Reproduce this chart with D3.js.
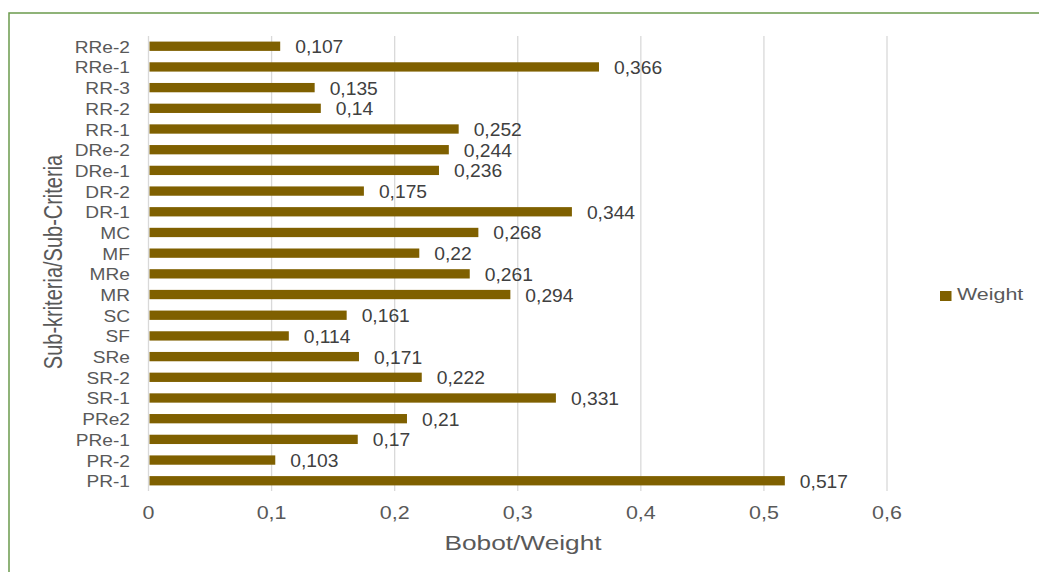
<!DOCTYPE html>
<html>
<head>
<meta charset="utf-8">
<script src="https://cdn.jsdelivr.net/npm/d3@7"></script>
<style>
  body { margin: 0; background: #fff; }
  svg { display: block; font-family: "Liberation Sans", Arial, sans-serif; }
</style>
</head>
<body>
<div id="chart"></div>
<script>
const categories = ["RRe-2", "RRe-1", "RR-3", "RR-2", "RR-1", "DRe-2", "DRe-1", "DR-2", "DR-1",
  "MC", "MF", "MRe", "MR", "SC", "SF", "SRe", "SR-2", "SR-1", "PRe2", "PRe-1", "PR-2", "PR-1"];
const weights = [0.107, 0.366, 0.135, 0.14, 0.252, 0.244, 0.236, 0.175, 0.344,
  0.268, 0.22, 0.261, 0.294, 0.161, 0.114, 0.171, 0.222, 0.331, 0.21, 0.17, 0.103, 0.517];
const ticks = [0, 0.1, 0.2, 0.3, 0.4, 0.5, 0.6];

const width = 1039, height = 572;
const barColor = "#7f6000";
const fmt = v => String(v).replace(".", ",");
// the original picture is a bit wider than tall, so text gets a horizontal stretch
const at = (x, y, sx) => `translate(${x},${y}) scale(${sx},1)`;

const svg = d3.select("#chart").append("svg")
  .attr("width", width)
  .attr("height", height);

// green frame, running off the right and bottom edges
svg.append("rect")
  .attr("x", 9).attr("y", 13)
  .attr("width", width + 20).attr("height", height + 20)
  .attr("fill", "none")
  .attr("stroke", "#6b9a4c")
  .attr("stroke-width", 1.5);

const x = d3.scaleLinear().domain([0, 0.6]).range([148.5, 887]);
const y = d3.scaleBand().domain(categories).range([36, 491]).paddingInner(0.55).paddingOuter(0.27);

// gridlines
svg.append("g")
  .selectAll("line")
  .data(ticks)
  .join("line")
    .attr("x1", d => x(d)).attr("x2", d => x(d))
    .attr("y1", 36).attr("y2", 491)
    .attr("stroke", "#d9d9d9")
    .attr("stroke-width", 1.3);

// x tick labels
svg.append("g")
  .selectAll("text")
  .data(ticks)
  .join("text")
    .attr("transform", d => at(x(d), 519, 1.13))
    .attr("text-anchor", "middle")
    .attr("fill", "#595959")
    .style("font-size", "19px")
    .text(d => fmt(d));

// bars
svg.append("g")
  .selectAll("rect")
  .data(categories)
  .join("rect")
    .attr("x", x(0) + 1)
    .attr("y", d => y(d))
    .attr("width", (d, i) => x(weights[i]) - x(0) - 1)
    .attr("height", y.bandwidth())
    .attr("fill", barColor);

// value labels
svg.append("g")
  .selectAll("text")
  .data(categories)
  .join("text")
    .attr("transform", (d, i) => at(x(weights[i]) + 15, y(d) + y.bandwidth() / 2 + 7, 1.1))
    .attr("fill", "#404040")
    .style("font-size", "17.5px")
    .text((d, i) => fmt(weights[i]));

// category labels
svg.append("g")
  .selectAll("text")
  .data(categories)
  .join("text")
    .attr("transform", d => at(130, y(d) + y.bandwidth() / 2 + 6.5, 1.16))
    .attr("text-anchor", "end")
    .attr("fill", "#595959")
    .style("font-size", "16.5px")
    .text(d => d);

// axis titles
svg.append("text")
  .attr("transform", at(523, 550, 1.25))
  .attr("text-anchor", "middle")
  .attr("fill", "#595959")
  .style("font-size", "21px")
  .text("Bobot/Weight");

svg.append("text")
  .attr("transform", "translate(62,262) scale(1.25,1) rotate(-90)")
  .attr("text-anchor", "middle")
  .attr("fill", "#595959")
  .style("font-size", "20px")
  .text("Sub-kriteria/Sub-Criteria");

// legend
svg.append("rect")
  .attr("x", 940).attr("y", 291)
  .attr("width", 11.5).attr("height", 10)
  .attr("fill", barColor);
svg.append("text")
  .attr("transform", at(957, 299.5, 1.34))
  .attr("fill", "#595959")
  .style("font-size", "16px")
  .text("Weight");
</script>
</body>
</html>
